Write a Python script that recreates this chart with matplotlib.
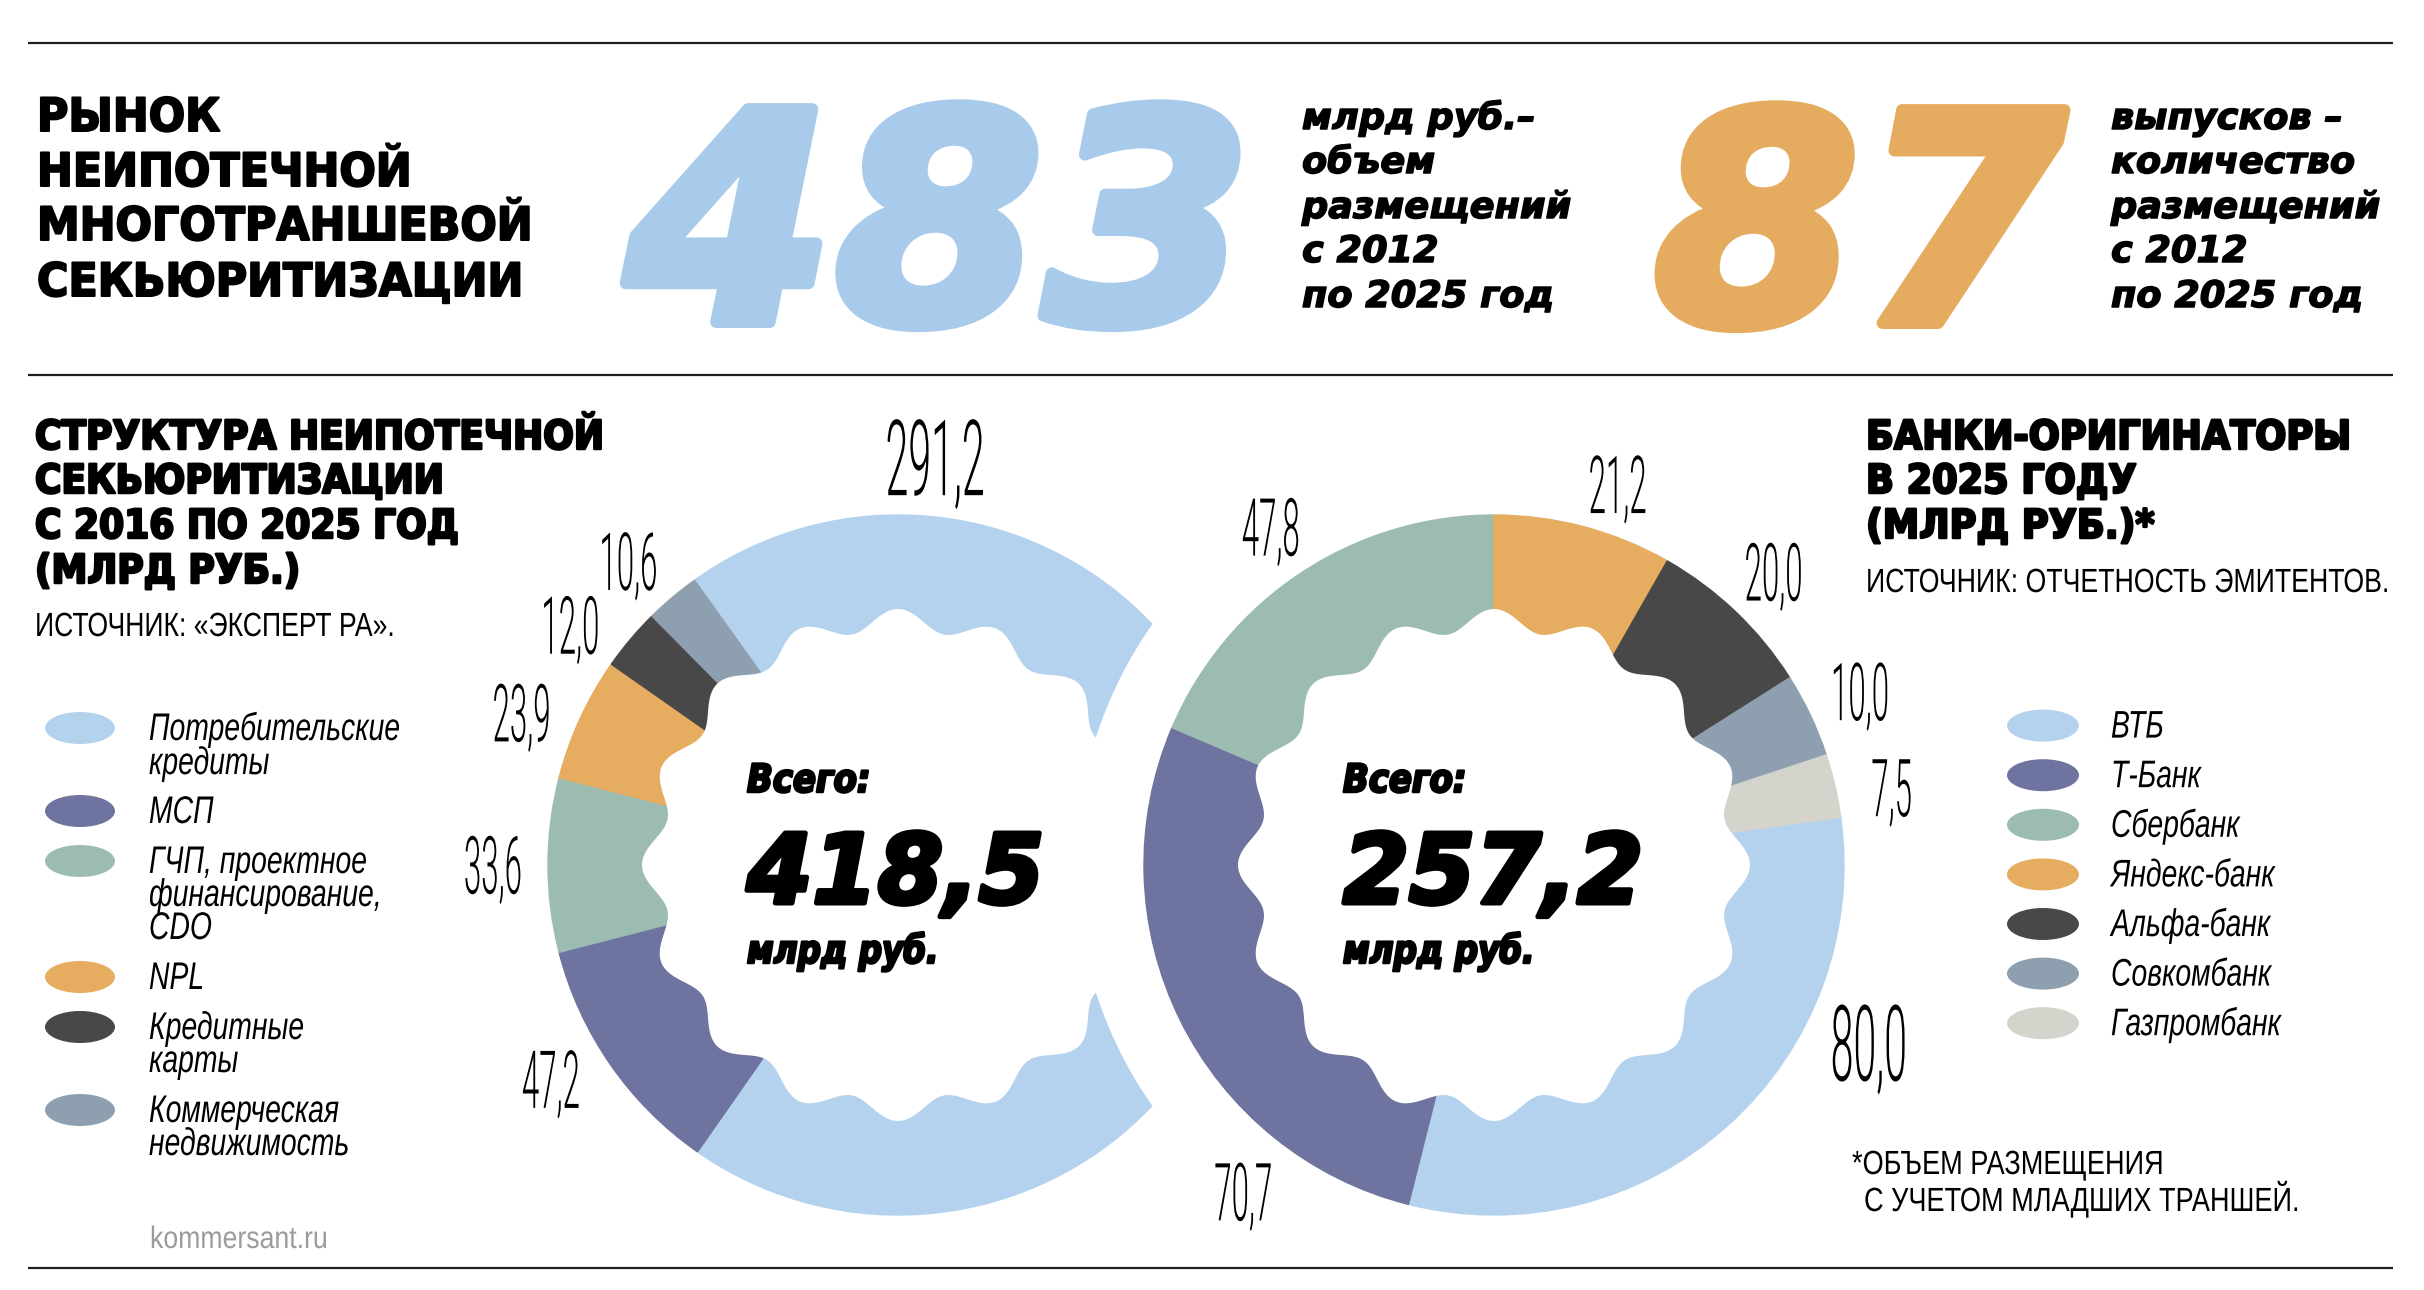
import numpy as np
import matplotlib
matplotlib.use('Agg')
import matplotlib.pyplot as plt
from matplotlib.patches import Polygon, Circle, Ellipse
from matplotlib.patheffects import AbstractPathEffect
from matplotlib.transforms import Affine2D
from matplotlib.font_manager import FontProperties

# ---------------- data ----------------
title_lines = ['РЫНОК', 'НЕИПОТЕЧНОЙ', 'МНОГОТРАНШЕВОЙ', 'СЕКЬЮРИТИЗАЦИИ']
volume_value = '483'
volume_caption = ['млрд руб.–', 'объем', 'размещений', 'с 2012', 'по 2025 год']
count_value = '87'
count_caption = ['выпусков –', 'количество', 'размещений', 'с 2012', 'по 2025 год']

struct_title = ['СТРУКТУРА НЕИПОТЕЧНОЙ', 'СЕКЬЮРИТИЗАЦИИ', 'С 2016 ПО 2025 ГОД', '(МЛРД РУБ.)']
struct_source = 'ИСТОЧНИК: «ЭКСПЕРТ РА».'
struct_categories = ['Потребительские\nкредиты', 'МСП', 'ГЧП, проектное\nфинансирование,\nCDO',
                     'NPL', 'Кредитные\nкарты', 'Коммерческая\nнедвижимость']
struct_values = [291.2, 47.2, 33.6, 23.9, 12.0, 10.6]
struct_total = 418.5

banks_title = ['БАНКИ-ОРИГИНАТОРЫ', 'В 2025 ГОДУ', '(МЛРД РУБ.)*']
banks_source = 'ИСТОЧНИК: ОТЧЕТНОСТЬ ЭМИТЕНТОВ.'
banks = ['ВТБ', 'Т-Банк', 'Сбербанк', 'Яндекс-банк', 'Альфа-банк', 'Совкомбанк', 'Газпромбанк']
bank_values = [80.0, 70.7, 47.8, 21.2, 20.0, 10.0, 7.5]
bank_total = 257.2

footnote = ['*ОБЪЕМ РАЗМЕЩЕНИЯ', 'С УЧЕТОМ МЛАДШИХ ТРАНШЕЙ.']
credit = 'kommersant.ru'
unit = 'млрд руб.'
total_word = 'Всего:'

# ---------------- style ----------------
C_BLUE, C_PURPLE, C_GREEN = '#B4D2EE', '#6E73A0', '#9CBCB1'
C_ORANGE, C_DARK, C_GREY, C_LIGHT = '#E6AD60', '#484848', '#8E9FAF', '#D4D4CC'
struct_colors = [C_BLUE, C_PURPLE, C_GREEN, C_ORANGE, C_DARK, C_GREY]
bank_colors = [C_BLUE, C_PURPLE, C_GREEN, C_ORANGE, C_DARK, C_GREY, C_LIGHT]
BIG_BLUE, BIG_ORANGE = '#A8CAEB', '#E5AC5F'


def fmt(v):
    return f'{v:.1f}'.replace('.', ',')


W, H = 2424, 1290
fig = plt.figure(figsize=(24.24, 12.9), dpi=100)
fig.patch.set_facecolor('white')
ax = fig.add_axes([0, 0, 1, 1])
renderer = fig.canvas.get_renderer()


class Stretch(AbstractPathEffect):
    """Vertical stretch of glyphs about their baseline (condensed type look),
    with optional emboldening stroke."""
    def __init__(self, sy=1.0, bold=0.0):
        super().__init__()
        self.sy, self.bold = sy, bold

    def draw_path(self, renderer, gc, tpath, affine, rgbFace=None):
        y0 = affine.transform((0, 0))[1]
        tr = affine + Affine2D().translate(0, -y0).scale(1, self.sy).translate(0, y0)
        if self.bold > 0:
            gc0 = renderer.new_gc()
            gc0.copy_properties(gc)
            gc0.set_linewidth(self.bold * 0.72)
            gc0.set_foreground(rgbFace)
            gc0.set_joinstyle('round')
            renderer.draw_path(gc0, tpath, tr, rgbFace)
            gc0.restore()
        else:
            renderer.draw_path(gc, tpath, tr, rgbFace)


def fprops(px, family, weight, style):
    return FontProperties(family=family, weight=weight, style=style, size=px * 0.72)


def nat_width(s, fp):
    return renderer.get_text_width_height_descent(s, fp, ismath=False)[0]


def txt(x, y, s, px, family='DejaVu Sans', weight='normal', style='normal',
        color='black', ha='left', sx=None, width=None, bold=0.0, zorder=10):
    """px: em size giving the wanted glyph height; width: wanted ink width.
    The font is sized to the width and stretched vertically to the height."""
    if width is not None:
        sx = (width - bold) / nat_width(s, fprops(px, family, weight, style))
    if sx is None:
        sx = 1.0
    t = ax.text(x, H - y, s, fontproperties=fprops(px * sx, family, weight, style),
                color=color, ha=ha, va='baseline', zorder=zorder)
    t.set_path_effects([Stretch(1.0 / sx, bold)])
    return sx


def block(x, baselines, lines, px, fit, **kw):
    i, w = fit
    sx = txt(x, baselines[i], lines[i], px, width=w, **kw)
    for j, (yb, s) in enumerate(zip(baselines, lines)):
        if j != i:
            txt(x, yb, s, px, sx=sx, **kw)
    return sx


def multiline(x, y1, s, px, step, family, style, sx, zorder=10):
    """One text object with several lines; y1 = baseline of first line."""
    fp = fprops(px * sx, family, 'normal', style)
    _, lh, ld = renderer.get_text_width_height_descent('lp', fp, ismath=False)
    first = s.split('\n')[0]
    _, h0, d0 = renderer.get_text_width_height_descent(first, fp, ismath=False)
    asc0 = max(h0, lh) - max(d0, ld)
    ls = (step - ld) / (lh - ld)
    t = ax.text(x, H - y1 + asc0, s, fontproperties=fp, color='black', ha='left',
                va='top', linespacing=ls, zorder=zorder)
    t.set_path_effects([Stretch(1.0 / sx)])


# ---------------- rules ----------------
for yy in (43, 375, 1268):
    ax.plot([28, 2393], [H - yy, H - yy], color='#1e1e1e', lw=1.6,
            solid_capstyle='butt', zorder=30)

# ---------------- top band ----------------
block(37, [131, 186, 240, 296], title_lines, 46, (2, 498), weight='bold', bold=2)
txt(626, 322, volume_value, 292, weight='bold', style='italic', color=BIG_BLUE,
    width=638, bold=12)
block(1302, [129, 173, 218, 262, 307], volume_caption, 36.5, (2, 271),
      weight='bold', style='italic', bold=1.5)
txt(1654, 323, count_value, 292, weight='bold', style='italic', color=BIG_ORANGE,
    width=423, bold=12)
block(2111, [129, 173, 218, 262, 307], count_caption, 36.5, (2, 271),
      weight='bold', style='italic', bold=1.5)

# ---------------- section headings ----------------
block(35, [449, 493, 538, 583], struct_title, 40, (0, 571), weight='bold', bold=2.5)
txt(35, 636, struct_source, 33.5, family='Liberation Sans', width=360)
block(1866, [449, 493, 538], banks_title, 40, (0, 487), weight='bold', bold=2.5)
txt(1866, 592, banks_source, 33.5, family='Liberation Sans', width=524)

# ---------------- donuts ----------------
R_OUT, MASK_R0, MASK_AMP, LOBES = 350, 245.5, 10.5, 16
LX, LY = 898, 865
RX, RY = 1494, 865
LABEL_FONT = 'Roboto'


def donut(values, colors, cx, cy, start, z):
    wedges, _ = ax.pie(values, colors=colors, startangle=start, counterclock=False,
                       radius=R_OUT, center=(cx, H - cy), frame=True,
                       wedgeprops=dict(linewidth=1.0, zorder=z))
    for w in wedges:
        w.set_edgecolor(w.get_facecolor())
    th = np.linspace(0, 2 * np.pi, 1441)
    rr = MASK_R0 + MASK_AMP * np.cos(LOBES * th)
    ax.add_patch(Polygon(np.column_stack([cx + rr * np.cos(th), H - cy + rr * np.sin(th)]),
                         closed=True, fc='white', ec='none', zorder=z + 0.5))
    return wedges


def donut_labels(wedges, values, cx, cy, overrides):
    big = int(np.argmax(values))
    for i, (w, v) in enumerate(zip(wedges, values)):
        a = 0.5 * (w.theta1 + w.theta2)
        r = 405
        if i in overrides:
            a, r = overrides[i]
        h = 75 if i == big else 57
        x = cx + r * np.cos(np.radians(a))
        yc = cy - r * np.sin(np.radians(a))
        txt(x, yc + h / 2, fmt(v), h / 0.711, family=LABEL_FONT, weight=300,
            ha='center', sx=0.39)


def center_text(cx, total, wnum):
    x = cx - 151
    txt(x, 792, total_word, 39, weight='bold', style='italic', width=126, bold=2.5)
    txt(x, 903, fmt(total), 96, weight='bold', style='italic', width=wnum, bold=5)
    txt(x, 963, unit, 39, weight='bold', style='italic', width=194, bold=2.5)


# left donut: ГЧП segment centred on the left horizontal
cum = np.cumsum([0] + struct_values)
start_l = 180 + 360 * (cum[2] + struct_values[2] / 2) / sum(struct_values)
wl = donut(struct_values, struct_colors, LX, LY, start_l, 1)
# white gap around the right donut
ax.add_patch(Circle((RX, H - RY), 418, fc='white', ec='none', zorder=3))
# right donut: Сбербанк / Яндекс boundary at the top
start_r = 90 + 360 * sum(bank_values[:3]) / sum(bank_values)
wr = donut(bank_values, bank_colors, RX, RY, start_r, 4)

donut_labels(wl, struct_values, LX, LY,
             {0: (84.8, 409), 1: (211.7, 408), 3: (158, 406), 4: (143.8, 406), 5: (131.6, 406)})
donut_labels(wr, bank_values, RX, RY,
             {0: (-25.4, 415), 1: (232.5, 412), 3: (72, 400), 6: (11, 405)})
center_text(LX, struct_total, 302)
center_text(RX, bank_total, 305)

# ---------------- legends ----------------
LEG_PX = 38.5
LEG_FAM = 'Liberation Sans'
leg_sx = 251 / nat_width(struct_categories[0].split('\n')[0],
                         fprops(LEG_PX, LEG_FAM, 'normal', 'italic'))
y = 728
for lab, col in zip(struct_categories, struct_colors):
    ax.add_patch(Ellipse((80, H - y), 70, 32, fc=col, ec='none', zorder=5))
    multiline(149, y + 12, lab, LEG_PX, 33, LEG_FAM, 'italic', leg_sx)
    y += 33 * len(lab.split('\n')) + 17

for i, (lab, col) in enumerate(zip(banks, bank_colors)):
    yy = 725.6 + 49.6 * i
    ax.add_patch(Ellipse((2043, H - yy), 72, 32, fc=col, ec='none', zorder=5))
    txt(2111, yy + 12, lab, LEG_PX, family=LEG_FAM, style='italic', sx=leg_sx)

# ---------------- footnote & credit ----------------
fsx = txt(1864, 1211, footnote[1], 33.5, family='Liberation Sans', width=436)
txt(1852, 1174, footnote[0], 33.5, family='Liberation Sans', sx=fsx)
txt(150, 1248, credit, 31, family='Liberation Sans', color='#9B9B9B', width=178)

ax.set_xlim(0, W)
ax.set_ylim(0, H)
ax.set_aspect('equal')
ax.set_axis_off()
fig.savefig('out.png', dpi=100, facecolor='white')
